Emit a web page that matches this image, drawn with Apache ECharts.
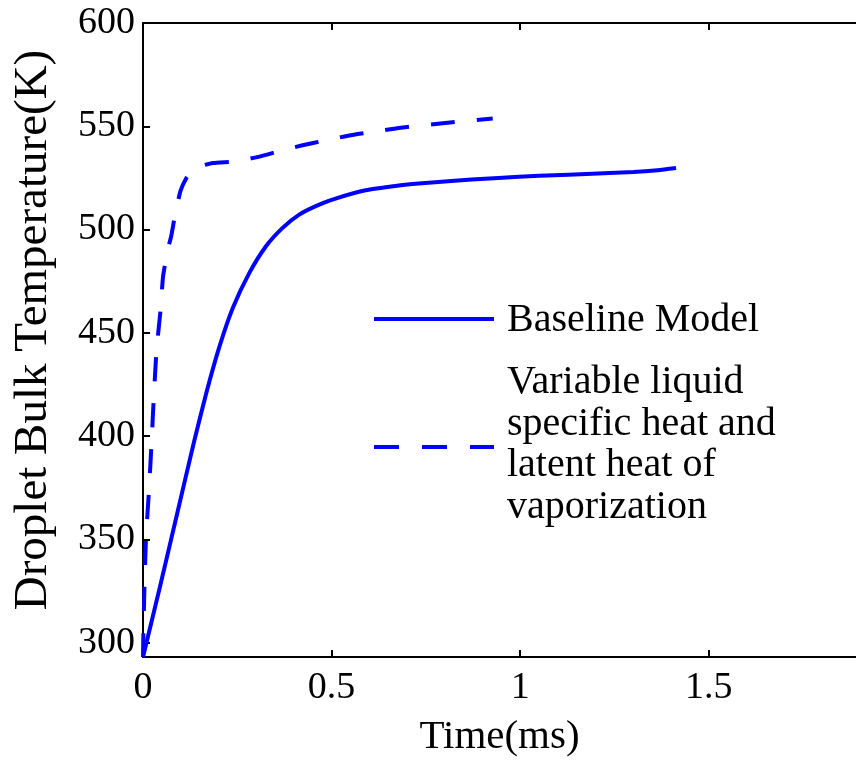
<!DOCTYPE html>
<html>
<head>
<meta charset="utf-8">
<script src="https://cdn.jsdelivr.net/npm/echarts@6/dist/echarts.min.js"></script>
<style>
html,body{margin:0;padding:0;background:#fff;}
#chart{width:856px;height:766px;}
</style>
</head>
<body>
<div id="chart"></div>
<script>
// ---- data ----
const baselineTime = [0, 0.045, 0.09, 0.135, 0.168, 0.203, 0.238, 0.282, 0.326, 0.370, 0.414, 0.458, 0.502, 0.590, 0.678, 0.731, 0.80, 0.942, 1.05, 1.206, 1.30, 1.364, 1.413];
const baselineTemp = [293, 327, 362, 397, 421, 443.5, 462, 479, 491.9, 500.8, 507.2, 511.3, 514.5, 519, 521.3, 522.3, 523.3, 525, 526, 527.1, 527.8, 528.7, 529.8];

const variableTime = [0, 0.001, 0.004, 0.008, 0.016, 0.023, 0.029, 0.036, 0.046, 0.053, 0.064, 0.075, 0.084, 0.099, 0.115, 0.128, 0.15, 0.185, 0.247, 0.309, 0.366, 0.423, 0.485, 0.555, 0.621, 0.678, 0.801, 0.927];
const variableTemp = [293, 304, 328, 351, 374, 398, 420, 442, 460, 477, 489, 497, 506, 518.5, 525, 527.7, 530.5, 532.2, 533, 535.3, 538.2, 540.8, 543.2, 545.8, 547.6, 549.2, 551.6, 553.8];

const xTicks = [0, 0.5, 1, 1.5];
const yTicks = [300, 350, 400, 450, 500, 550, 600];

const seriesNames = ['Baseline Model', 'Variable liquid\nspecific heat and\nlatent heat of\nvaporization'];
const xTitle = 'Time(ms)';
const yTitle = 'Droplet Bulk Temperature(K)';

// ---- chart ----
const FONT = '"Liberation Serif", "Times New Roman", serif';
const BLUE = '#0000ff';
const chart = echarts.init(document.getElementById('chart'), null, {renderer: 'canvas'});

function pairs(xs, ys) { return xs.map((x, i) => [x, ys[i]]); }

const axisLineStyle = {show: true, lineStyle: {color: '#000', width: 2}};
const tickStyle = {inside: true, length: 7, lineStyle: {color: '#000', width: 2}};

const option = {
  animation: false,
  backgroundColor: '#fff',
  grid: {left: 143, top: 23, right: -4, bottom: 109, containLabel: false},
  xAxis: [
    {
      type: 'value', position: 'bottom', min: 0, max: 1.89,
      axisLine: axisLineStyle,
      axisTick: Object.assign({customValues: xTicks}, tickStyle),
      axisLabel: {customValues: xTicks, fontFamily: FONT, fontSize: 38, color: '#000', margin: 12,
                  formatter: v => String(v)},
      splitLine: {show: false},
      name: xTitle, nameLocation: 'middle', nameGap: 60,
      nameTextStyle: {fontFamily: FONT, fontSize: 41, color: '#000'}
    },
    {
      type: 'value', position: 'top', min: 0, max: 1.89,
      axisLine: axisLineStyle,
      axisTick: Object.assign({customValues: xTicks}, tickStyle),
      axisLabel: {show: false},
      splitLine: {show: false}
    }
  ],
  yAxis: [
    {
      type: 'value', position: 'left', min: 293, max: 600,
      axisLine: axisLineStyle,
      axisTick: Object.assign({customValues: yTicks}, tickStyle),
      axisLabel: {customValues: yTicks, fontFamily: FONT, fontSize: 38, color: '#000', margin: 8},
      splitLine: {show: false},
      name: yTitle, nameLocation: 'middle', nameGap: 86, nameRotate: 90,
      nameTextStyle: {fontFamily: FONT, fontSize: 47, color: '#000', padding: [0, 0, 0, 20]}
    }
  ],
  series: [
    {
      name: seriesNames[0], type: 'line', data: pairs(baselineTime, baselineTemp),
      showSymbol: false, smooth: 0.2, clip: true,
      lineStyle: {color: BLUE, width: 4, type: 'solid'}
    },
    {
      name: seriesNames[1], type: 'line', data: pairs(variableTime, variableTemp),
      showSymbol: false, smooth: 0.15, clip: true,
      lineStyle: {color: BLUE, width: 4, type: [24, 22]}
    }
  ],
  graphic: [
    {type: 'line', shape: {x1: 374, y1: 319, x2: 494, y2: 319},
     style: {stroke: BLUE, lineWidth: 4}},
    {type: 'text', x: 507, y: 320,
     style: {text: seriesNames[0], font: '40px ' + FONT, fill: '#000', verticalAlign: 'middle', align: 'left'}},
    {type: 'line', shape: {x1: 374, y1: 447, x2: 494, y2: 447},
     style: {stroke: BLUE, lineWidth: 4, lineDash: [25, 23]}},
    {type: 'text', x: 507, y: 445,
     style: {text: seriesNames[1], font: '40px ' + FONT, fill: '#000', verticalAlign: 'middle', align: 'left', lineHeight: 41.7}}
  ]
};
chart.setOption(option);
</script>
</body>
</html>
